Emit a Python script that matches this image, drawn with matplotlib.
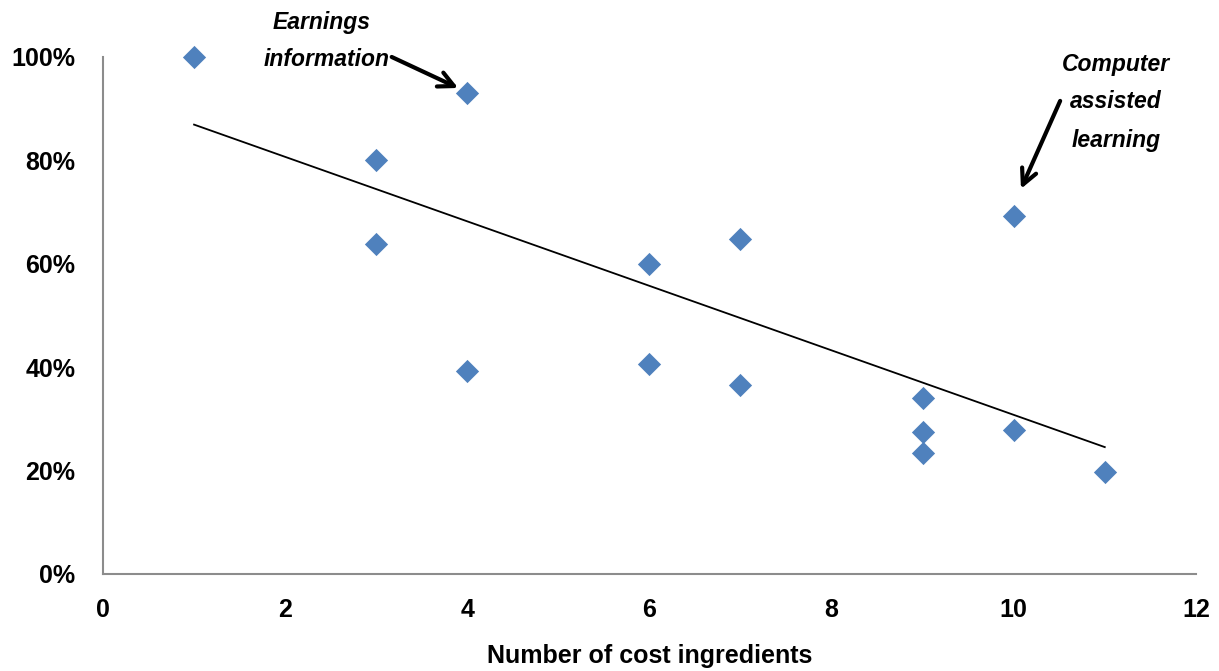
import numpy as np
import matplotlib.pyplot as plt
from matplotlib.ticker import PercentFormatter

# Data
ingredients = [1, 3, 3, 4, 4, 6, 6, 7, 7, 9, 9, 9, 10, 10, 11]
share = [1.00, 0.80, 0.638, 0.93, 0.393, 0.60, 0.406, 0.648, 0.366,
         0.34, 0.275, 0.234, 0.692, 0.279, 0.197]
x_ticks = [0, 2, 4, 6, 8, 10, 12]
y_ticks = [0, 0.2, 0.4, 0.6, 0.8, 1.0]

plt.rcParams['font.family'] = ['Liberation Sans', 'DejaVu Sans']
plt.rcParams['font.weight'] = 'bold'

fig = plt.figure(figsize=(12.19, 6.71), dpi=100)
ax = fig.add_axes([0.0845, 0.1446, 0.8965, 0.7705])

ax.scatter(ingredients, share, marker='D', s=140, color='#4f81bd', zorder=3,
           linewidths=0, clip_on=False)

# linear trendline over the data range
slope, intercept = np.polyfit(ingredients, share, 1)
xs = np.array([min(ingredients), max(ingredients)])
ax.plot(xs, slope * xs + intercept, color='black', lw=1.3)

ax.set_xlim(0, 12)
ax.set_ylim(0, 1)
ax.set_xticks(x_ticks)
ax.set_yticks(y_ticks)
ax.yaxis.set_major_formatter(PercentFormatter(1.0, decimals=0))
ax.tick_params(length=0, labelsize=18, pad=17)
ax.tick_params(axis='y', pad=20)
for lab in ax.get_xticklabels() + ax.get_yticklabels():
    lab.set_fontweight('bold')

for s in ['top', 'right']:
    ax.spines[s].set_visible(False)
for s in ['left', 'bottom']:
    ax.spines[s].set_color('#8c8c8c')
    ax.spines[s].set_linewidth(1.5)

ax.set_xlabel('Number of cost ingredients', fontsize=18, fontweight='bold', labelpad=16)

# annotations
tkw = dict(fontsize=16.5, fontweight='bold', style='italic', ha='center', va='center',
           annotation_clip=False)
arw = dict(arrowstyle='->,head_length=1.1,head_width=0.55', color='black', lw=3,
           shrinkA=0, shrinkB=0)
ax.annotate('Earnings', xy=(2.40, 1.066), **tkw)
ax.annotate('information', xy=(2.45, 0.996), **tkw)
ax.annotate('', xy=(3.90, 0.94), xytext=(3.17, 1.0), annotation_clip=False, arrowprops=arw)

ax.annotate('Computer', xy=(11.12, 0.985), **tkw)
ax.annotate('assisted', xy=(11.12, 0.913), **tkw)
ax.annotate('learning', xy=(11.12, 0.839), **tkw)
ax.annotate('', xy=(10.08, 0.745), xytext=(10.51, 0.915), annotation_clip=False, arrowprops=arw)

fig.savefig('out.png', dpi=100)
